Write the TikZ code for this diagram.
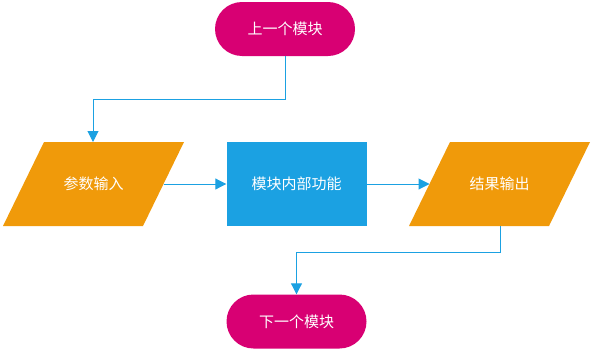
\documentclass[tikz,border=0pt]{standalone}
\usepackage{fontspec}
\newfontfamily\cjk{Noto Sans CJK SC}
\usetikzlibrary{arrows.meta}
\definecolor{cmag}{HTML}{D80073}
\definecolor{camber}{HTML}{F09A0A}
\definecolor{ccyan}{HTML}{1BA1E2}
\tikzset{
  term/.style={fill=cmag, rounded corners=27pt, minimum width=140pt, minimum height=54pt, inner sep=0pt, text=white, font=\cjk\fontsize{15}{18}\selectfont},
  procbox/.style={fill=ccyan, minimum width=140pt, minimum height=84pt, inner sep=0pt, text=white, font=\cjk\fontsize{15}{18}\selectfont},
  iolabel/.style={inner sep=0pt, text=white, font=\cjk\fontsize{15}{18}\selectfont},
  iofill/.style={fill=camber},
  conn/.style={draw=ccyan, line width=1pt, -{Triangle[length=11pt,width=11pt]}},
}
\begin{document}
\begin{tikzpicture}[x=1pt,y=-1pt]
\useasboundingbox (0,0) rectangle (593,351);
% top terminator
\node[term] (top) at (285,29) {上一个模块};
% left parallelogram
\coordinate (lTL) at (44,142);
\coordinate (lTR) at (184,142);
\coordinate (lBR) at (143,226);
\coordinate (lBL) at (3,226);
\fill[iofill] (lTL) -- (lTR) -- (lBR) -- (lBL) -- cycle;
\node[iolabel] (inp) at (93.5,184) {参数输入};
\coordinate (inpTop) at (93,142);
\coordinate (inpRight) at (163.5,184);
% process box
\node[procbox] (proc) at (296.5,184) {模块内部功能};
% right parallelogram
\coordinate (rTL) at (450,142);
\coordinate (rTR) at (590,142);
\coordinate (rBR) at (549,226);
\coordinate (rBL) at (409,226);
\fill[iofill] (rTL) -- (rTR) -- (rBR) -- (rBL) -- cycle;
\node[iolabel] (outp) at (499.5,184) {结果输出};
\coordinate (outLeft) at (429.5,184);
\coordinate (outBot) at (500,226);
% bottom terminator
\node[term] (bot) at (296.5,321.5) {下一个模块};
% connectors
\coordinate (k1) at (285,99);
\coordinate (k2) at (93,99);
\draw[conn] (top.south) -- (k1) -- (k2) -- (inpTop);
\draw[conn] (inpRight) -- (proc.west);
\draw[conn] (proc.east) -- (outLeft);
\coordinate (k3) at (500,252);
\coordinate (k4) at (296.5,252);
\draw[conn] (outBot) -- (k3) -- (k4) -- (bot.north);
\end{tikzpicture}
\end{document}
